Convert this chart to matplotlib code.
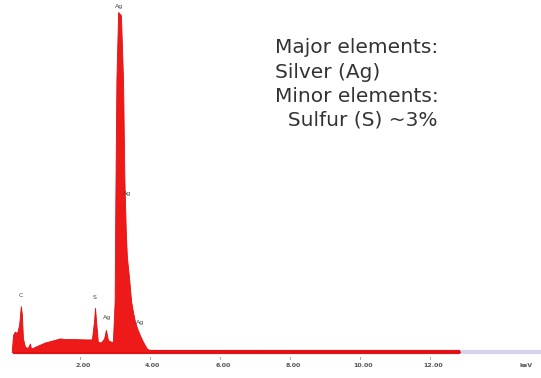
import matplotlib
matplotlib.use("Agg")
import matplotlib.pyplot as plt

# EDS spectrum outline (energy in keV, counts in arbitrary units)
energy = [0.05, 0.086, 0.14, 0.20, 0.26, 0.31, 0.34, 0.37, 0.43, 0.51, 0.57, 0.60,
          0.71, 1.00, 1.29, 1.43, 1.57, 1.86, 2.14, 2.34, 2.40, 2.43, 2.46, 2.51,
          2.60, 2.69, 2.74, 2.80, 2.89, 2.94, 2.99, 3.01, 3.04, 3.09, 3.17, 3.23,
          3.27, 3.31, 3.34, 3.40, 3.46, 3.51, 3.57, 3.63, 3.71, 3.80, 3.91, 4.00,
          6.00, 9.00, 12.86]
counts = [0, 50, 60, 55, 80, 135, 110, 40, 15, 12, 25, 10,
          15, 28, 36, 40, 38, 38, 37, 37, 90, 130, 90, 30,
          28, 40, 65, 35, 30, 30, 150, 450, 800, 1000, 990, 800,
          500, 350, 280, 220, 150, 120, 90, 70, 50, 30, 10, 5,
          4, 3, 2]

peak_labels = ["C", "S", "Ag", "Ag", "Ag", "Ag"]
peak_x = [0.31, 2.43, 2.77, 3.12, 3.35, 3.72]
peak_y = [150, 145, 85, 1000, 450, 70]

tick_vals = [2, 4, 6, 8, 10, 12]
tick_text = ["2.00", "4.00", "6.00", "8.00", "10.00", "12.00"]

summary = ["Major elements:", "Silver (Ag)", "Minor elements:", "  Sulfur (S) ~3%"]

fig = plt.figure(figsize=(5.41, 3.78), dpi=100)
ax = fig.add_axes([0, 0, 1, 1])
ax.set_xlim(-10 / 35, 531 / 35)
ax.set_ylim(-26 / 0.34, 1000 + 12 / 0.34)
ax.axis("off")

# baseline band
ax.plot([0.08, 12.86], [0, 0], color="#e0141c", lw=3, solid_capstyle="butt", zorder=2)
ax.plot([12.86, 15.5], [0, 0], color="#d9d2ee", lw=3, solid_capstyle="butt", zorder=2)

ax.fill_between(energy, counts, 0, color="#ee1a1a", lw=0.6, edgecolor="#e01010", zorder=3)

for lab, x, y in zip(peak_labels, peak_x, peak_y):
    ax.text(x, y + 8, lab, fontsize=4.5, color="#444444", ha="center", va="bottom", zorder=4)

for v, t in zip(tick_vals, tick_text):
    ax.plot([v, v], [-14, -20], color="#999999", lw=0.6)
    ax.text(v + 0.08, -40, t, fontsize=4.5, color="#555555", ha="center", va="center",
            fontweight="bold")
ax.text(14.55, -40, "keV", fontsize=4.5, color="#555555", ha="left", va="center",
        fontweight="bold")

baselines = [53, 77.5, 102, 126]
for line, yb in zip(summary, baselines):
    fig.text(275 / 541, 1 - yb / 378, line, fontsize=14.5,
             family="DejaVu Sans", color="#333333", ha="left", va="baseline")

fig.savefig("out.png", dpi=100, facecolor="white")
